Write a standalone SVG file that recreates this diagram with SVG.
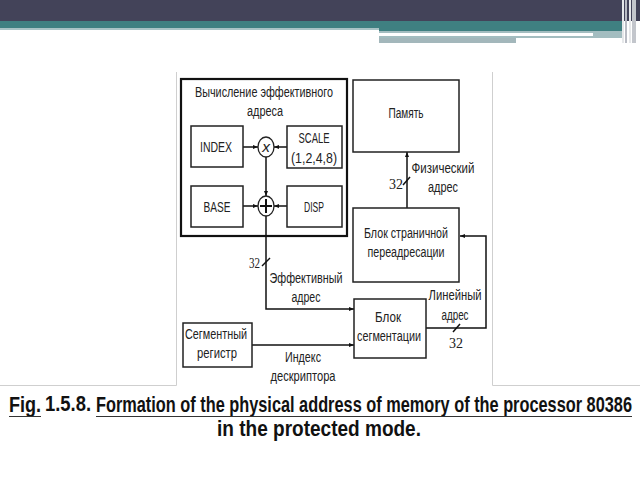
<svg xmlns="http://www.w3.org/2000/svg" width="640" height="480" viewBox="0 0 640 480">
<defs>
<marker id="ah" viewBox="0 0 10 10" refX="10" refY="5" markerWidth="5" markerHeight="5" orient="auto" markerUnits="userSpaceOnUse">
<path d="M0,1 L10,5 L0,9 z" fill="#111"/>
</marker>
</defs>
<style>
.bx{fill:#fff;stroke:#222;stroke-width:1.5}
.t{font-family:"Liberation Sans",Arial,sans-serif;font-size:15.5px;fill:#222;text-anchor:middle}
.n{font-family:"Liberation Serif","Times New Roman",serif;font-size:15px;fill:#222}
.ln{fill:none;stroke:#111;stroke-width:1.5}
.cap{font-family:"Liberation Sans",Arial,sans-serif;font-weight:bold;font-size:22px;fill:#111}
.dec{stroke:#cfcfcf;stroke-width:1;fill:none}
</style>
<rect width="640" height="480" fill="#fff"/>
<g id="header">
<rect x="0" y="0" width="640" height="21" fill="#434359"/>
<rect x="0" y="21" width="379" height="7" fill="#3f8081"/>
<rect x="0" y="28" width="379" height="2" fill="#a9c3c5"/>
<rect x="379" y="21" width="243" height="10" fill="#3f8081"/>
<rect x="379" y="31" width="243" height="7" fill="#a3bdc0"/>
<rect x="379" y="33" width="214" height="3" fill="#ffffff"/>
<rect x="379" y="38" width="137" height="5" fill="#a3b7bb"/>
<rect x="622" y="0" width="2" height="43" fill="#e6e8ea"/>
<rect x="625" y="0" width="2" height="43" fill="#b9bcc4"/>
<rect x="629" y="0" width="2" height="43" fill="#e6e8ea"/>
<rect x="632" y="0" width="4" height="43" fill="#c3c6cc"/>
</g>
<g id="frame">
<path class="dec" d="M176.5,72 V385.5 H0"/>
<path class="dec" d="M492.5,72 V385.5 H640"/>
</g>
<g id="connectors">
<line class="ln" x1="243" y1="147" x2="258" y2="147" marker-end="url(#ah)"/>
<line class="ln" x1="287" y1="147" x2="274" y2="147" marker-end="url(#ah)"/>
<line class="ln" x1="266" y1="157" x2="266" y2="196" marker-end="url(#ah)"/>
<line class="ln" x1="243" y1="206" x2="258" y2="206" marker-end="url(#ah)"/>
<line class="ln" x1="287" y1="206" x2="274" y2="206" stroke-width="2.2" marker-end="url(#ah)"/>
<path class="ln" d="M266,216 V309 H354" marker-end="url(#ah)"/>
<line class="ln" x1="262" y1="266" x2="270" y2="258"/>
<line class="ln" x1="252" y1="345" x2="354" y2="345" marker-end="url(#ah)"/>
<path class="ln" d="M426,328 H486 V236 H460" marker-end="url(#ah)"/>
<line class="ln" x1="453" y1="332" x2="460" y2="324"/>
<line class="ln" x1="407" y1="208" x2="407" y2="152" marker-end="url(#ah)"/>
<line class="ln" x1="403" y1="185" x2="410" y2="177"/>
</g>
<g id="eff-block">
<rect x="181" y="79" width="166" height="157" fill="none" stroke="#111" stroke-width="2.2"/>
<text class="t" x="264" y="97" textLength="138" lengthAdjust="spacingAndGlyphs">Вычисление эффективного</text>
<text class="t" x="265" y="116" textLength="36" lengthAdjust="spacingAndGlyphs">адреса</text>
</g>
<g id="index">
<rect class="bx" x="191" y="126" width="52" height="41"/>
<text class="t" x="216" y="152" textLength="32" lengthAdjust="spacingAndGlyphs">INDEX</text>
</g>
<g id="scale">
<rect class="bx" x="287" y="126" width="55" height="42"/>
<text class="t" x="314" y="143" textLength="31" lengthAdjust="spacingAndGlyphs">SCALE</text>
<text class="t" x="314" y="163" textLength="46" lengthAdjust="spacingAndGlyphs">(1,2,4,8)</text>
</g>
<g id="mul">
<ellipse cx="266" cy="147" rx="8" ry="10" fill="#fff" stroke="#222" stroke-width="1.3"/>
<text class="t" x="266" y="152" font-size="13" font-style="italic">x</text>
</g>
<g id="base">
<rect class="bx" x="191" y="186" width="52" height="41"/>
<text class="t" x="217" y="212" textLength="27" lengthAdjust="spacingAndGlyphs">BASE</text>
</g>
<g id="disp">
<rect class="bx" x="287" y="186" width="55" height="41"/>
<text class="t" x="314" y="212" textLength="20" lengthAdjust="spacingAndGlyphs">DISP</text>
</g>
<g id="add">
<ellipse cx="266" cy="206" rx="8" ry="10" fill="#fff" stroke="#222" stroke-width="1.3"/>
<path d="M266,199 V213 M260,206 H272" stroke="#111" stroke-width="2"/>
</g>
<g id="memory">
<rect class="bx" x="353" y="80" width="106" height="72"/>
<text class="t" x="406" y="118" textLength="35" lengthAdjust="spacingAndGlyphs">Память</text>
</g>
<g id="paging">
<rect class="bx" x="353" y="208" width="106" height="74"/>
<text class="t" x="406" y="238" textLength="84" lengthAdjust="spacingAndGlyphs">Блок страничной</text>
<text class="t" x="406" y="257" textLength="77" lengthAdjust="spacingAndGlyphs">переадресации</text>
</g>
<g id="segmentation">
<rect class="bx" x="354" y="299" width="72" height="59"/>
<text class="t" x="388" y="322" textLength="26" lengthAdjust="spacingAndGlyphs">Блок</text>
<text class="t" x="389" y="341" textLength="64" lengthAdjust="spacingAndGlyphs">сегментации</text>
</g>
<g id="segreg">
<rect class="bx" x="183" y="323" width="69" height="44"/>
<text class="t" x="216" y="339" textLength="62" lengthAdjust="spacingAndGlyphs">Сегментный</text>
<text class="t" x="217" y="358" textLength="40" lengthAdjust="spacingAndGlyphs">регистр</text>
</g>
<g id="labels">
<text class="t" x="443" y="173" textLength="63" lengthAdjust="spacingAndGlyphs">Физический</text>
<text class="t" x="443" y="192" textLength="30" lengthAdjust="spacingAndGlyphs">адрес</text>
<text class="n" x="389" y="189" textLength="14" lengthAdjust="spacingAndGlyphs">32</text>
<text class="n" x="249" y="268" textLength="11" lengthAdjust="spacingAndGlyphs">32</text>
<text class="t" x="306" y="283" textLength="73" lengthAdjust="spacingAndGlyphs">Эффективный</text>
<text class="t" x="306" y="302" textLength="29" lengthAdjust="spacingAndGlyphs">адрес</text>
<text class="t" x="455" y="300" textLength="53" lengthAdjust="spacingAndGlyphs">Линейный</text>
<text class="t" x="455" y="320" textLength="27" lengthAdjust="spacingAndGlyphs">адрес</text>
<text class="n" x="449" y="348" textLength="14" lengthAdjust="spacingAndGlyphs">32</text>
<text class="t" x="303" y="362" textLength="36" lengthAdjust="spacingAndGlyphs">Индекс</text>
<text class="t" x="303" y="381" textLength="65" lengthAdjust="spacingAndGlyphs">дескриптора</text>
</g>
<g id="caption">
<text class="cap" x="9" y="412" textLength="32" lengthAdjust="spacingAndGlyphs">Fig.</text>
<text class="cap" x="45" y="411" font-weight="normal" font-size="16" textLength="46" lengthAdjust="spacingAndGlyphs">1.5.8.</text>
<text class="cap" transform="translate(96,412) scale(0.7,1)" x="0" y="0" textLength="765.7" lengthAdjust="spacingAndGlyphs">Formation of the physical address of memory of the processor 80386</text>
<text class="cap" x="319" y="436" text-anchor="middle" textLength="204" lengthAdjust="spacingAndGlyphs">in the protected mode.</text>
<line x1="9" y1="416.5" x2="41" y2="416.5" stroke="#333" stroke-width="1"/>
<line x1="96" y1="416.5" x2="632" y2="416.5" stroke="#333" stroke-width="1"/>
</g>
</svg>
